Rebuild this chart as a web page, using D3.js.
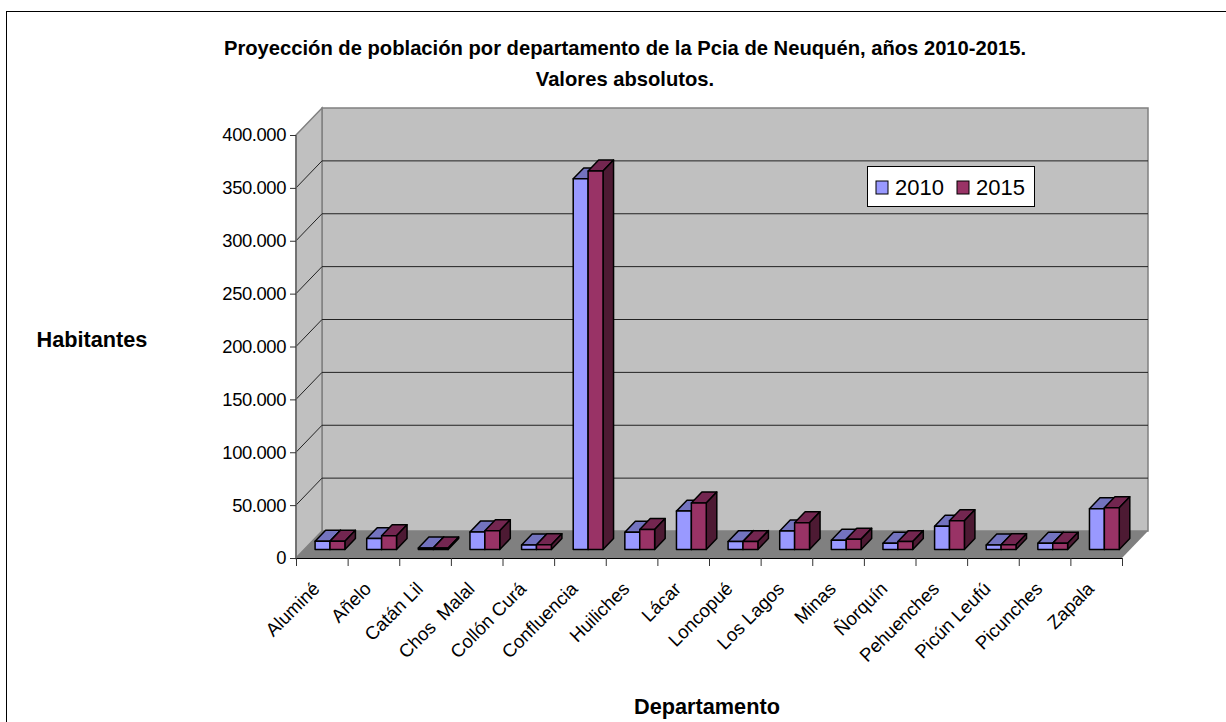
<html>
<head>
<meta charset="utf-8">
<title>Proyección de población por departamento</title>
<script src="https://cdn.jsdelivr.net/npm/d3@7"></script>
<style>
    html, body { margin: 0; padding: 0; background: #fff; overflow: hidden; }
    svg { display: block; }
    text { font-family: "Liberation Sans", Arial, sans-serif; fill: #000; white-space: pre; }
    .title { font-weight: bold; font-size: 20.2px; }
    .axis-title { font-weight: bold; font-size: 21.7px; }
    .tick text { font-size: 18.4px; letter-spacing: -0.4px; }
    .domain { display: none; }
    .cat-label { font-size: 18.6px; }
    .legend-label { font-size: 22px; }
</style>
</head>
<body>
<svg id="chart"></svg>
<script>
const WIDTH = 1226
const HEIGHT = 722

const titleLines = ["Proyección de población por departamento de la Pcia de Neuquén, años 2010-2015.", "Valores absolutos."]
const yTitle = "Habitantes"
const xTitle = "Departamento"
const categories = ["Aluminé", "Añelo", "Catán Lil", "Chos  Malal", "Collón Curá", "Confluencia", "Huiliches", "Lácar",
    "Loncopué", "Los Lagos", "Minas", "Ñorquín", "Pehuenches", "Picún Leufú", "Picunches", "Zapala"]
const seriesNames = ["2010", "2015"]
const values2010 = [7800, 10300, 1500, 16500, 4300, 350500, 16300, 36300, 7500, 17500, 8800, 6000, 22000, 4300, 6000, 38500]
const values2015 = [7800, 13000, 1500, 17800, 4500, 358000, 19000, 44000, 7500, 25300, 9800, 7500, 27200, 4500, 6000, 39500]
const yTicks = [0, 50000, 100000, 150000, 200000, 250000, 300000, 350000, 400000]

const plotLeft = 296, plotRight = 1122, plotBottom = 558, plotTop = 135
const depthDx = 26, depthDy = -27

const svg = d3.select("#chart").attr("width", WIDTH).attr("height", HEIGHT)

const y = d3.scaleLinear().domain([0, 400000]).range([plotBottom, plotTop])
const x = d3.scaleBand().domain(categories).range([plotLeft, plotRight])
const xBar = d3.scaleBand().domain(seriesNames).range([10.9, 40.7])
// z goes from the front edge of the floor (0) to the back wall (1)
const zX = d3.scaleLinear().domain([0, 1]).range([0, depthDx])
const zY = d3.scaleLinear().domain([0, 1]).range([0, depthDy])
const zFront = 0.315, zBack = 0.72

const esFormat = d3.formatLocale({ decimal: ",", thousands: ".", grouping: [3], currency: ["$", ""] }).format(",d")
const poly = pts => pts.map(p => p.join(",")).join(" ")

// frame, its right and bottom sides run off the picture
svg.append("rect").attr("x", 6.5).attr("y", 11.5).attr("width", WIDTH).attr("height", HEIGHT)
    .attr("fill", "#fff").attr("stroke", "#000").attr("stroke-width", 1)

// walls and floor
const y0 = y(0), yMax = y(400000)
svg.append("polygon")
    .attr("points", poly([[plotLeft + depthDx, y0 + depthDy], [plotRight + depthDx, y0 + depthDy], [plotRight + depthDx, yMax + depthDy], [plotLeft + depthDx, yMax + depthDy]]))
    .attr("fill", "#c0c0c0").attr("stroke", "#808080").attr("stroke-width", 1.5)
svg.append("polygon")
    .attr("points", poly([[plotLeft, y0], [plotLeft, yMax], [plotLeft + depthDx, yMax + depthDy], [plotLeft + depthDx, y0 + depthDy]]))
    .attr("fill", "#c0c0c0").attr("stroke", "#808080").attr("stroke-width", 1.5)

// gridlines, back wall and side wall
const grid = svg.append("g")
grid.selectAll("polyline").data(yTicks.filter(t => t > 0 && t < 400000)).enter().append("polyline")
    .attr("points", t => poly([[plotLeft, y(t)], [plotLeft + depthDx, y(t) + depthDy], [plotRight + depthDx, y(t) + depthDy]]))
    .attr("fill", "none").attr("stroke", "#222").attr("stroke-width", 1)

svg.append("polygon")
    .attr("points", poly([[plotLeft, y0], [plotRight, y0], [plotRight + depthDx, y0 + depthDy], [plotLeft + depthDx, y0 + depthDy]]))
    .attr("fill", "#808080")
svg.append("line").attr("x1", plotLeft).attr("x2", plotRight).attr("y1", y0 + 0.5).attr("y2", y0 + 0.5)
    .attr("stroke", "#000").attr("stroke-width", 1)
svg.append("line").attr("x1", plotLeft).attr("x2", plotLeft).attr("y1", y0).attr("y2", yMax)
    .attr("stroke", "#666").attr("stroke-width", 1.5)

// bars: top, side, front
const barColors = {
    "2010": { front: "#9999ff", top: "#7373bf", side: "#4d4d80" },
    "2015": { front: "#993366", top: "#732650", side: "#4d1a33" }
}
const barData = []
categories.forEach((c, i) => {
    barData.push({ cat: c, series: "2010", value: values2010[i] })
    barData.push({ cat: c, series: "2015", value: values2015[i] })
})
const bars = svg.append("g").selectAll("g").data(barData).enter().append("g")
    .attr("stroke", "#000").attr("stroke-width", 1.5).attr("stroke-linejoin", "round")

function barCorners(d) {
    const l = x(d.cat) + xBar(d.series) + zX(zFront)
    const r = l + xBar.bandwidth()
    const base = y(0) + zY(zFront)
    const top = y(d.value) + zY(zFront)
    const dx = zX(zBack - zFront), dy = zY(zBack - zFront)
    return { l, r, base, top, dx, dy }
}
bars.append("polygon").attr("fill", d => barColors[d.series].top).attr("points", d => {
    const c = barCorners(d)
    return poly([[c.l, c.top], [c.r, c.top], [c.r + c.dx, c.top + c.dy], [c.l + c.dx, c.top + c.dy]])
})
bars.append("polygon").attr("fill", d => barColors[d.series].side).attr("points", d => {
    const c = barCorners(d)
    return poly([[c.r, c.top], [c.r + c.dx, c.top + c.dy], [c.r + c.dx, c.base + c.dy], [c.r, c.base]])
})
bars.append("polygon").attr("fill", d => barColors[d.series].front).attr("points", d => {
    const c = barCorners(d)
    return poly([[c.l, c.base], [c.l, c.top], [c.r, c.top], [c.r, c.base]])
})

// axes
const yAxis = svg.append("g").attr("transform", `translate(${plotLeft},0)`)
    .call(d3.axisLeft(y).tickValues(yTicks).tickSize(6).tickPadding(4).tickFormat(esFormat))
yAxis.selectAll("line").attr("stroke", "#333")

const xEdges = d3.scaleLinear().domain([0, categories.length]).range([plotLeft, plotRight])
const xAxis = svg.append("g").attr("transform", `translate(0,${plotBottom})`)
    .call(d3.axisBottom(xEdges).tickValues(d3.range(categories.length + 1)).tickSize(8).tickFormat(""))
xAxis.selectAll("line").attr("stroke", "#333")

svg.append("g").selectAll("text").data(categories).enter().append("text")
    .attr("class", "cat-label")
    .attr("text-anchor", "end")
    .attr("transform", d => `translate(${x(d) + x.bandwidth() / 2 - 1},${plotBottom + 32}) rotate(-45)`)
    .text(d => d)

// titles
svg.selectAll(".title").data(titleLines).enter().append("text")
    .attr("class", "title").attr("text-anchor", "middle")
    .attr("x", 625).attr("y", (d, i) => 55 + i * 31)
    .text(d => d)
svg.append("text").attr("class", "axis-title").attr("text-anchor", "middle").attr("x", 92).attr("y", 347).text(yTitle)
svg.append("text").attr("class", "axis-title").attr("text-anchor", "middle").attr("x", 707).attr("y", 714).text(xTitle)

// legend
const legend = svg.append("g")
legend.append("rect").attr("x", 867.5).attr("y", 166.5).attr("width", 167).attr("height", 40)
    .attr("fill", "#fff").attr("stroke", "#000").attr("stroke-width", 1)
const legendX = d3.scalePoint().domain(seriesNames).range([876, 957])
const legendItems = legend.selectAll("g").data(seriesNames).enter().append("g")
    .attr("transform", d => `translate(${legendX(d)},0)`)
legendItems.append("rect").attr("x", 0).attr("y", 181).attr("width", 12).attr("height", 13)
    .attr("fill", d => barColors[d].front).attr("stroke", "#000").attr("stroke-width", 1)
legendItems.append("text").attr("class", "legend-label").attr("x", 19).attr("y", 195).text(d => d)
</script>
</body>
</html>
